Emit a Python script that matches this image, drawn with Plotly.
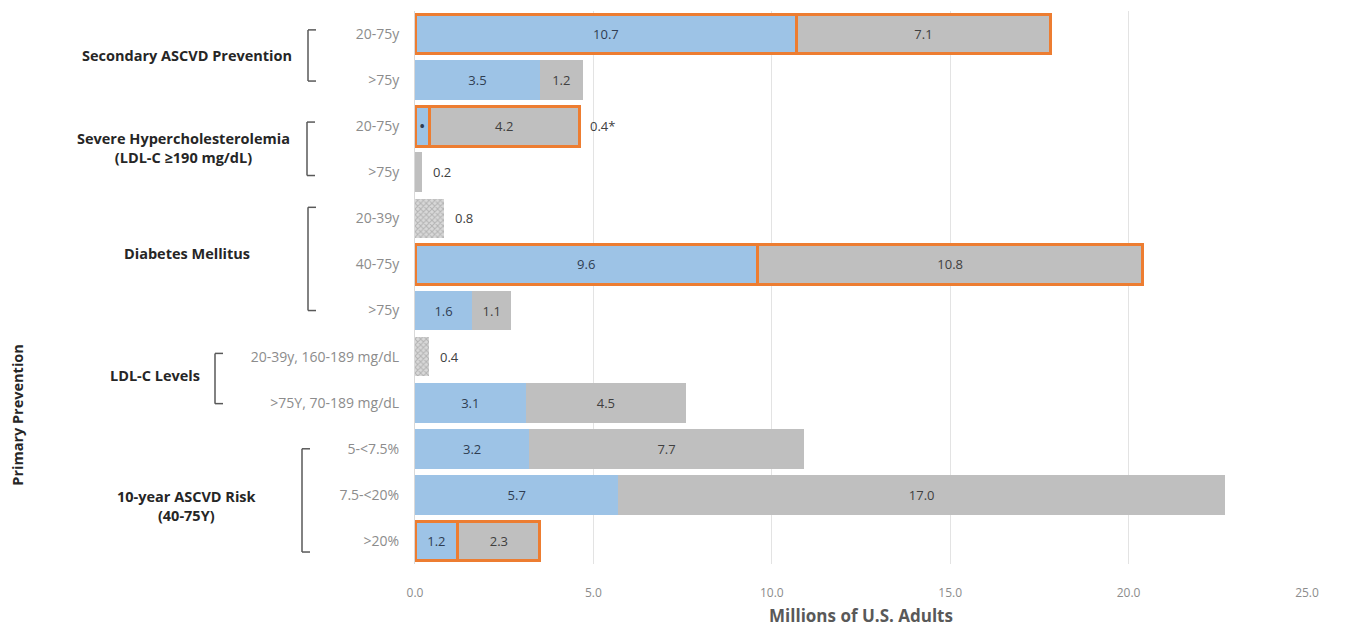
import plotly.graph_objects as go

# ---------------- data ----------------
row_labels = ["20-75y", ">75y", "20-75y", ">75y", "20-39y", "40-75y", ">75y",
              "20-39y, 160-189 mg/dL", ">75Y, 70-189 mg/dL",
              "5-<7.5%", "7.5-<20%", ">20%"]
blue_vals = [10.7, 3.5, 0.4, None, None, 9.6, 1.6, None, 3.1, 3.2, 5.7, 1.2]
gray_vals = [7.1, 1.2, 4.2, 0.2, None, 10.8, 1.1, None, 4.5, 7.7, 17.0, 2.3]
hatch_vals = [None, None, None, None, 0.8, None, None, 0.4, None, None, None, None]
highlight = [True, False, True, False, False, True, False, False, False, False, False, True]
# label shown inside blue segment where value too small to print
blue_special = {2: "<b>•</b>"}
# labels written beside short bars
outside_rows = [2, 3, 4, 7]
outside_text = ["0.4*", "0.2", "0.8", "0.4"]

groups = ["Secondary ASCVD Prevention",
          "Severe Hypercholesterolemia<br>(LDL-C ≥190 mg/dL)",
          "Diabetes Mellitus",
          "LDL-C Levels",
          "10-year ASCVD Risk<br>(40-75Y)"]
group_label_y = [0.46, 2.48, 4.76, 7.41, 10.24]
group_label_px = [187, 183, 187, 155, 187]
bracket_px = [308, 307, 308, 215, 302]
bracket_top = [-0.09, 1.91, 3.76, 6.93, 9.0]
bracket_bot = [1.02, 3.07, 6.0, 8.02, 11.24]

xticks = [0, 5, 10, 15, 20, 25]

# ---------------- style ----------------
BLUE = "#9DC3E6"
GRAY = "#BFBFBF"
ORANGE = "#ED7D31"
FONT = "Open Sans"
L, R, T, B = 415, 41, 11, 65
W, H = 1348, 629
PW = W - L - R

def px2paper(px):
    return (px - L) / PW

rows = list(range(len(row_labels)))
line_w = [3 if h else 0 for h in highlight]
line_c = [ORANGE if h else "rgba(0,0,0,0)" for h in highlight]

blue_text = [blue_special.get(i, "" if v is None else f"{v:.1f}") for i, v in enumerate(blue_vals)]
gray_text = ["" if (v is None or i == 3) else f"{v:.1f}" for i, v in enumerate(gray_vals)]

fig = go.Figure()
fig.add_trace(go.Bar(
    y=rows, x=blue_vals, orientation="h", width=0.86,
    marker=dict(color=BLUE, line=dict(color=line_c, width=line_w)),
    text=blue_text, textposition="inside", insidetextanchor="middle",
    textfont=dict(family=FONT, size=13, color="#2F3D52"),
    hoverinfo="skip", showlegend=False))
fig.add_trace(go.Bar(
    y=rows, x=gray_vals, orientation="h", width=0.86,
    marker=dict(color=GRAY, line=dict(color=line_c, width=line_w)),
    text=gray_text, textposition="inside", insidetextanchor="middle",
    textfont=dict(family=FONT, size=13, color="#404040"),
    hoverinfo="skip", showlegend=False))
fig.add_trace(go.Bar(
    y=rows, x=hatch_vals, orientation="h", width=0.86,
    marker=dict(color="#D9D9D9", line=dict(width=0),
                pattern=dict(shape="x", fgcolor="#8C8C8C", bgcolor="#D9D9D9",
                             size=4, solidity=0.45)),
    hoverinfo="skip", showlegend=False))

annotations = []
for r, t in zip(outside_rows, outside_text):
    tot = sum(v for v in (blue_vals[r], gray_vals[r], hatch_vals[r]) if v)
    annotations.append(dict(x=tot, y=r, xref="x", yref="y", text=t, showarrow=False,
                            xanchor="left", xshift=9,
                            font=dict(family=FONT, size=13, color="#404040")))

shapes = []
for g, ly, lpx, bpx, bt, bb in zip(groups, group_label_y, group_label_px,
                                    bracket_px, bracket_top, bracket_bot):
    annotations.append(dict(x=px2paper(lpx), y=ly, xref="paper", yref="y", text=f"<b>{g}</b>",
                            showarrow=False, xanchor="center", yanchor="middle",
                            font=dict(family=FONT, size=14.5, color="#262626")))
    x0 = px2paper(bpx)
    x1 = px2paper(bpx + 8)
    for (xa, ya, xb, yb) in [(x0, bt, x0, bb), (x0, bt, x1, bt), (x0, bb, x1, bb)]:
        shapes.append(dict(type="line", xref="paper", yref="y", x0=xa, y0=ya, x1=xb, y1=yb,
                           line=dict(color="#595959", width=1.5)))

annotations.append(dict(x=px2paper(18), y=0.27, xref="paper", yref="paper",
                        text="<b>Primary Prevention</b>", textangle=-90, showarrow=False,
                        xanchor="center", yanchor="middle",
                        font=dict(family=FONT, size=14.5, color="#262626")))

fig.update_layout(
    width=W, height=H, barmode="stack",
    margin=dict(l=L, r=R, t=T, b=B),
    paper_bgcolor="white", plot_bgcolor="white",
    font=dict(family=FONT),
    annotations=annotations, shapes=shapes,
    uniformtext=dict(minsize=13, mode="show"),
    xaxis=dict(range=[0, 25], tickvals=xticks, ticktext=[f"{v:.1f}" for v in xticks],
               showgrid=True, gridcolor="#E3E3E3", gridwidth=1, zeroline=False,
               showline=False, ticks="", ticklabelstandoff=20, automargin=False,
               tickfont=dict(family=FONT, size=12, color="#8C8C8C"),
               title=dict(text="<b>Millions of U.S. Adults</b>", standoff=10,
                          font=dict(family=FONT, size=17, color="#595959"))),
    yaxis=dict(range=[11.5, -0.5], tickvals=rows, ticktext=row_labels,
               showgrid=False, zeroline=False, showline=True, linecolor="#D9D9D9",
               ticks="", ticklabelstandoff=12, automargin=False,
               tickfont=dict(family=FONT, size=14, color="#8C8C8C")),
)

fig.write_html("out.html")
